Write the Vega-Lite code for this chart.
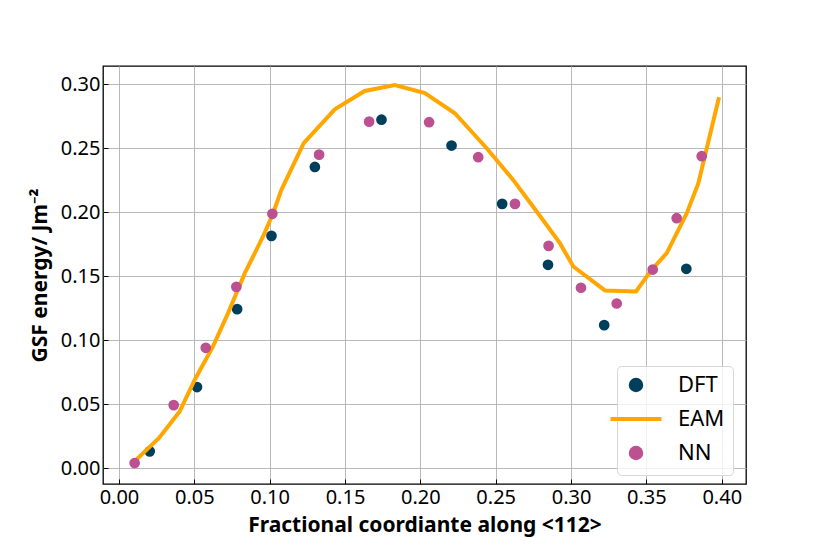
{
  "$schema": "https://vega.github.io/schema/vega-lite/v6.json",
  "width": 643,
  "height": 418,
  "autosize": "none",
  "padding": {"left": 103, "top": 66, "right": 84, "bottom": 70},
  "background": "white",
  "config": {
    "font": "Noto Sans",
    "view": {"stroke": "black", "strokeWidth": 1.3},
    "axis": {
      "domain": false,
      "grid": true,
      "gridColor": "#b0b0b0",
      "gridWidth": 0.9,
      "tickColor": "black",
      "tickSize": -5,
      "tickWidth": 1,
      "labelFont": "Noto Sans",
      "labelFontSize": 20,
      "labelColor": "black",
      "titleFont": "Noto Sans",
      "titleFontSize": 21,
      "titleFontWeight": "bold",
      "titleColor": "black"
    }
  },
  "datasets": {
    "dft": [
      {"x": 0.0204, "y": 0.0133, "series": "DFT"},
      {"x": 0.0518, "y": 0.0635, "series": "DFT"},
      {"x": 0.0784, "y": 0.1243, "series": "DFT"},
      {"x": 0.1012, "y": 0.1815, "series": "DFT"},
      {"x": 0.1300, "y": 0.2353, "series": "DFT"},
      {"x": 0.1742, "y": 0.2722, "series": "DFT"},
      {"x": 0.2207, "y": 0.2520, "series": "DFT"},
      {"x": 0.2543, "y": 0.2065, "series": "DFT"},
      {"x": 0.2847, "y": 0.1589, "series": "DFT"},
      {"x": 0.3220, "y": 0.1118, "series": "DFT"},
      {"x": 0.3765, "y": 0.1558, "series": "DFT"}
    ],
    "nn": [
      {"x": 0.0104, "y": 0.0042, "series": "NN"},
      {"x": 0.0363, "y": 0.0494, "series": "NN"},
      {"x": 0.0576, "y": 0.0941, "series": "NN"},
      {"x": 0.0779, "y": 0.1417, "series": "NN"},
      {"x": 0.1018, "y": 0.1987, "series": "NN"},
      {"x": 0.1328, "y": 0.2449, "series": "NN"},
      {"x": 0.1660, "y": 0.2707, "series": "NN"},
      {"x": 0.2058, "y": 0.2702, "series": "NN"},
      {"x": 0.2384, "y": 0.2429, "series": "NN"},
      {"x": 0.2628, "y": 0.2065, "series": "NN"},
      {"x": 0.2851, "y": 0.1737, "series": "NN"},
      {"x": 0.3066, "y": 0.1410, "series": "NN"},
      {"x": 0.3303, "y": 0.1287, "series": "NN"},
      {"x": 0.3542, "y": 0.1552, "series": "NN"},
      {"x": 0.3701, "y": 0.1953, "series": "NN"},
      {"x": 0.3867, "y": 0.2437, "series": "NN"}
    ],
    "eam": [
      {"x": 0.0115, "y": 0.0068, "series": "EAM"},
      {"x": 0.0266, "y": 0.0237, "series": "EAM"},
      {"x": 0.0403, "y": 0.0445, "series": "EAM"},
      {"x": 0.0503, "y": 0.0692, "series": "EAM"},
      {"x": 0.0624, "y": 0.0952, "series": "EAM"},
      {"x": 0.0724, "y": 0.1212, "series": "EAM"},
      {"x": 0.0835, "y": 0.1524, "series": "EAM"},
      {"x": 0.0956, "y": 0.1810, "series": "EAM"},
      {"x": 0.1023, "y": 0.1992, "series": "EAM"},
      {"x": 0.1078, "y": 0.2174, "series": "EAM"},
      {"x": 0.1226, "y": 0.2538, "series": "EAM"},
      {"x": 0.1432, "y": 0.2803, "series": "EAM"},
      {"x": 0.1631, "y": 0.2946, "series": "EAM"},
      {"x": 0.1831, "y": 0.2993, "series": "EAM"},
      {"x": 0.2030, "y": 0.2930, "series": "EAM"},
      {"x": 0.2229, "y": 0.2772, "series": "EAM"},
      {"x": 0.2440, "y": 0.2499, "series": "EAM"},
      {"x": 0.2616, "y": 0.2252, "series": "EAM"},
      {"x": 0.2772, "y": 0.2005, "series": "EAM"},
      {"x": 0.2926, "y": 0.1758, "series": "EAM"},
      {"x": 0.3015, "y": 0.1576, "series": "EAM"},
      {"x": 0.3225, "y": 0.1389, "series": "EAM"},
      {"x": 0.3431, "y": 0.1381, "series": "EAM"},
      {"x": 0.3535, "y": 0.1550, "series": "EAM"},
      {"x": 0.3635, "y": 0.1680, "series": "EAM"},
      {"x": 0.3768, "y": 0.1992, "series": "EAM"},
      {"x": 0.3845, "y": 0.2226, "series": "EAM"},
      {"x": 0.3982, "y": 0.2897, "series": "EAM"}
    ]
  },
  "encoding": {
    "x": {
      "field": "x",
      "type": "quantitative",
      "scale": {"domain": [-0.0106, 0.4161], "nice": false, "zero": false},
      "axis": {
        "title": "Fractional coordiante along <112>",
        "values": [0, 0.05, 0.1, 0.15, 0.2, 0.25, 0.3, 0.35, 0.4],
        "format": ".2f",
        "labelPadding": 8,
        "titlePadding": 7
      }
    },
    "y": {
      "field": "y",
      "type": "quantitative",
      "scale": {"domain": [-0.0122, 0.3141], "nice": false, "zero": false},
      "axis": {
        "title": "GSF energy/ Jm⁻²",
        "values": [0, 0.05, 0.1, 0.15, 0.2, 0.25, 0.3],
        "format": ".2f",
        "labelPadding": 8,
        "titlePadding": 10
      }
    },
    "color": {
      "field": "series",
      "type": "nominal",
      "scale": {"domain": ["DFT", "EAM", "NN"], "range": ["#003f5c", "#ffa600", "#bc5090"]},
      "legend": {
        "title": null,
        "orient": "none",
        "legendX": 514,
        "legendY": 300,
        "padding": 8,
        "labelFont": "Noto Sans",
        "labelFontSize": 22,
        "labelColor": "black",
        "labelOffset": 31,
        "rowPadding": 9,
        "symbolSize": 2600,
        "symbolStrokeWidth": 4,
        "encode": {
          "legend": {
            "update": {
              "fill": {"value": "rgba(255,255,255,0.8)"},
              "stroke": {"value": "#d6d6d6"},
              "strokeWidth": {"value": 1},
              "cornerRadius": {"value": 4}
            }
          },
          "symbols": {
            "update": {
              "shape": {"signal": "datum.value === 'EAM' ? 'stroke' : 'circle'"},
              "size": {"signal": "datum.value === 'EAM' ? 2600 : 110"},
              "fill": {"signal": "datum.value === 'EAM' ? 'transparent' : scale('color', datum.value)"},
              "stroke": {"signal": "datum.value === 'EAM' ? scale('color', datum.value) : 'transparent'"},
              "strokeWidth": {"value": 4},
              "opacity": {"value": 1}
            }
          }
        }
      }
    }
  },
  "layer": [
    {
      "data": {"name": "dft"},
      "mark": {"type": "point", "filled": true, "size": 115, "opacity": 1}
    },
    {
      "data": {"name": "eam"},
      "mark": {"type": "line", "strokeWidth": 4}
    },
    {
      "data": {"name": "nn"},
      "mark": {"type": "point", "filled": true, "size": 115, "opacity": 1}
    }
  ]
}
